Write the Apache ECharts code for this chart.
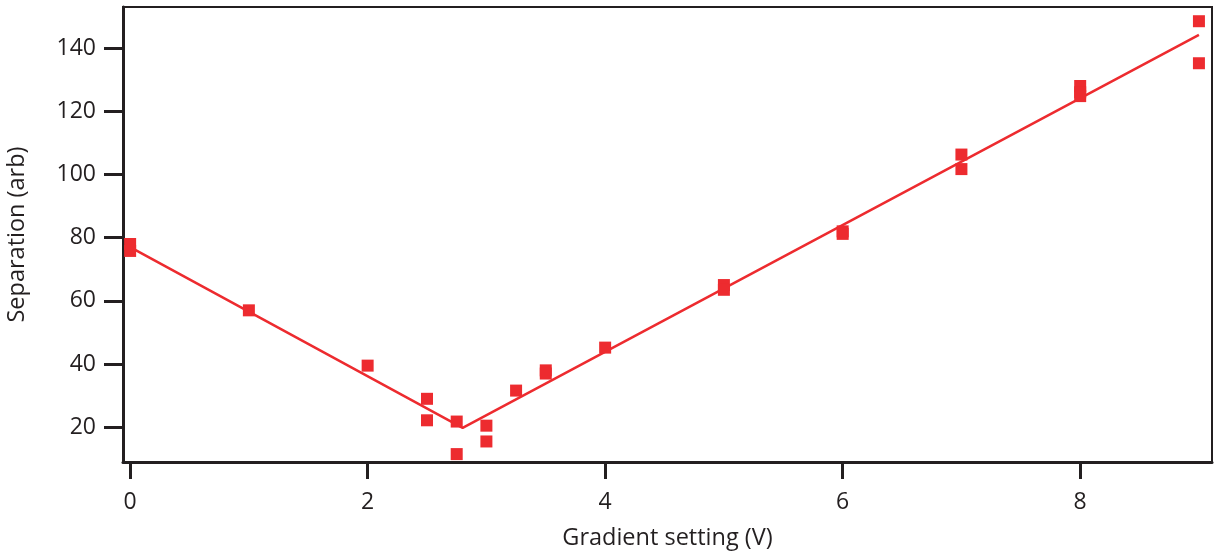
<!DOCTYPE html>
<html>
<head>
<meta charset="utf-8">
<script src="https://cdn.jsdelivr.net/npm/echarts@6/dist/echarts.min.js"></script>
<style>
html,body{margin:0;padding:0;background:#fff;}
#chart{width:1217px;height:552px;}
</style>
</head>
<body>
<div id="chart"></div>
<script>
// Measured points: gradient setting (V) and separation (arb)
const gradientX = [0, 0, 1, 2, 2.5, 2.5, 2.75, 2.75, 3, 3, 3.25, 3.5, 3.5, 4, 5, 5, 6, 6, 7, 7, 8, 8, 8, 9, 9];
const separationY = [78, 75.8, 57, 39.5, 29, 22.2, 21.8, 11.5, 20.5, 15.5, 31.6, 38, 37, 45.2, 65, 63.5, 82, 81.2, 106.3, 101.7, 128, 126, 124.8, 148.5, 135.2];
// Piecewise linear fit (breakpoints)
const fitX = [0, 2.8, 9];
const fitY = [77, 19.8, 144.2];
// Tick values
const xTicks = [0, 2, 4, 6, 8];
const yTicks = [20, 40, 60, 80, 100, 120, 140];

const red = '#ED2B2F';
const ink = '#231F20';
const font = 'Open Sans';

const scatterData = gradientX.map((x, i) => [x, separationY[i]]);
const fitData = fitX.map((x, i) => [x, fitY[i]]);

const chart = echarts.init(document.getElementById('chart'), null, {renderer: 'canvas'});
chart.setOption({
  animation: false,
  backgroundColor: '#fff',
  grid: {left: 123, right: 5, top: 7, bottom: 90, show: true, borderColor: ink, borderWidth: 2,
         backgroundColor: 'transparent', containLabel: false, outerBoundsMode: 'none'},
  xAxis: {
    type: 'value', min: -0.06, max: 9.11,
    name: 'Gradient setting (V)', nameLocation: 'middle', nameGap: 64,
    nameTextStyle: {fontFamily: font, fontSize: 23.5, color: ink},
    axisLine: {show: true, onZero: false, lineStyle: {color: ink, width: 3}},
    axisTick: {show: true, length: 17, lineStyle: {color: ink, width: 3}, customValues: xTicks},
    axisLabel: {fontFamily: font, fontSize: 23, color: ink, margin: 29, customValues: xTicks},
    splitLine: {show: false}
  },
  yAxis: {
    type: 'value', min: 9, max: 153,
    name: 'Separation (arb)', nameLocation: 'middle', nameGap: 94, nameRotate: 90,
    nameTextStyle: {fontFamily: font, fontSize: 23.5, color: ink},
    axisLine: {show: true, onZero: false, lineStyle: {color: ink, width: 3}},
    axisTick: {show: true, length: 19, lineStyle: {color: ink, width: 3}, customValues: yTicks},
    axisLabel: {fontFamily: font, fontSize: 23, color: ink, margin: 27, customValues: yTicks},
    splitLine: {show: false}
  },
  series: [
    {
      type: 'line', data: fitData, showSymbol: false, symbol: 'none',
      lineStyle: {color: red, width: 2.5}, z: 2
    },
    {
      type: 'scatter', data: scatterData, symbol: 'rect', symbolSize: [12, 12],
      itemStyle: {color: red, opacity: 1}, z: 3
    }
  ]
});
</script>
</body>
</html>
